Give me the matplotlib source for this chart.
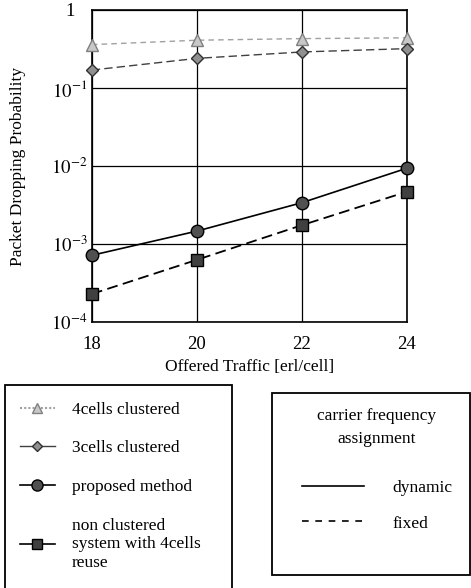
import matplotlib
matplotlib.use("Agg")
from matplotlib import pyplot as plt
from matplotlib.lines import Line2D
from matplotlib.patches import Rectangle

plt.rcParams['font.family'] = ['Liberation Serif', 'DejaVu Serif']
plt.rcParams['mathtext.fontset'] = 'stix'

traffic = [18, 20, 22, 24]
cells4_clustered = [0.36, 0.41, 0.43, 0.44]
cells3_clustered = [0.17, 0.24, 0.29, 0.32]
proposed = [7.2e-4, 1.47e-3, 3.4e-3, 9.4e-3]
non_clustered = [2.3e-4, 6.3e-4, 1.75e-3, 4.7e-3]

W, H = 471, 588
fig = plt.figure(figsize=(W / 100, H / 100), dpi=100)
ax = fig.add_axes([0.195, 0.452, 0.669, 0.531])

ax.plot(traffic, cells4_clustered, linestyle=(0, (4, 3)), color='#a0a0a0', lw=1.0,
        marker='^', ms=8, mfc='#c8c8c8', mec='#808080', clip_on=False, zorder=3)
ax.plot(traffic, cells3_clustered, linestyle=(0, (6, 3)), color='#404040', lw=1.0,
        marker='D', ms=6, mfc='#909090', mec='#303030', clip_on=False, zorder=3)
ax.plot(traffic, proposed, linestyle='-', color='black', lw=1.2,
        marker='o', ms=9, mfc='#505050', mec='black', clip_on=False, zorder=3)
ax.plot(traffic, non_clustered, linestyle=(0, (6, 3)), color='black', lw=1.3,
        marker='s', ms=8, mfc='#404040', mec='black', clip_on=False, zorder=3)

ax.set_yscale('log')
ax.set_ylim(1e-4, 1)
ax.set_xlim(18, 24)
ax.set_xticks(traffic)
ax.set_yticks([1e-4, 1e-3, 1e-2, 1e-1, 1])
ax.set_yticklabels(['$10^{-4}$', '$10^{-3}$', '$10^{-2}$', '$10^{-1}$', '1'])
ax.minorticks_off()
ax.tick_params(axis='x', length=0, labelsize=13.5, pad=10)
ax.tick_params(axis='y', length=0, labelsize=13.5, pad=16)
for lbl in ax.get_yticklabels():
    lbl.set_horizontalalignment('center')
ax.grid(True, color='black', lw=0.9)
for s in ax.spines.values():
    s.set_linewidth(1.2)
ax.set_xlabel('Offered Traffic [erl/cell]', fontsize=12.5, labelpad=4)
ax.set_ylabel('Packet Dropping Probability', fontsize=12.5, labelpad=14)
ax.yaxis.set_label_coords(-0.21, 0.5)


def px_box(x0, y0, x1, y1):
    # pixel box (top-left origin) -> figure-coordinate rectangle
    return Rectangle((x0 / W, 1 - y1 / H), (x1 - x0) / W, (y1 - y0) / H,
                     transform=fig.transFigure, fill=False, edgecolor='black',
                     lw=1.3, clip_on=False)


fig.patches.append(px_box(5, 385, 232, 592))
fig.patches.append(px_box(272, 393, 470, 575))

series_handles = [
    Line2D([], [], color='#a0a0a0', ls=(0, (1, 1)), marker='^', ms=7, mfc='#c8c8c8', mec='#808080'),
    Line2D([], [], color='#404040', ls='-', lw=1, marker='D', ms=5.5, mfc='#909090', mec='#303030'),
    Line2D([], [], color='black', ls='-', lw=1.2, marker='o', ms=8, mfc='#505050', mec='black'),
    Line2D([], [], color='black', ls='-', lw=1.2, marker='s', ms=7.5, mfc='#404040', mec='black'),
]
series_labels = ['4cells clustered', '3cells clustered', 'proposed method',
                 'non clustered\nsystem with 4cells\nreuse']
fig.legend(series_handles, series_labels, loc='upper left',
           bbox_to_anchor=(10 / W - 0.012, 1 - 386 / H), fontsize=12.5, frameon=False,
           handlelength=2.0, labelspacing=1.3, borderpad=0.4, handletextpad=1.0)

style_handles = [
    Line2D([], [], color='black', ls='-', lw=1.2),
    Line2D([], [], color='black', ls=(0, (4, 4)), lw=1.2),
]
leg2 = fig.legend(style_handles, ['dynamic', 'fixed'], loc='upper center',
                  bbox_to_anchor=(377 / W, 1 - 392 / H), fontsize=12.5, frameon=False,
                  handlelength=3.6, labelspacing=1.1, borderpad=0.4, handletextpad=1.6,
                  title='carrier frequency\nassignment', title_fontsize=12.5)
leg2.get_title().set_multialignment('center')
leg2.get_title().set_linespacing(1.6)
leg2._legend_box.sep = 24

fig.savefig('out.png', dpi=100)
